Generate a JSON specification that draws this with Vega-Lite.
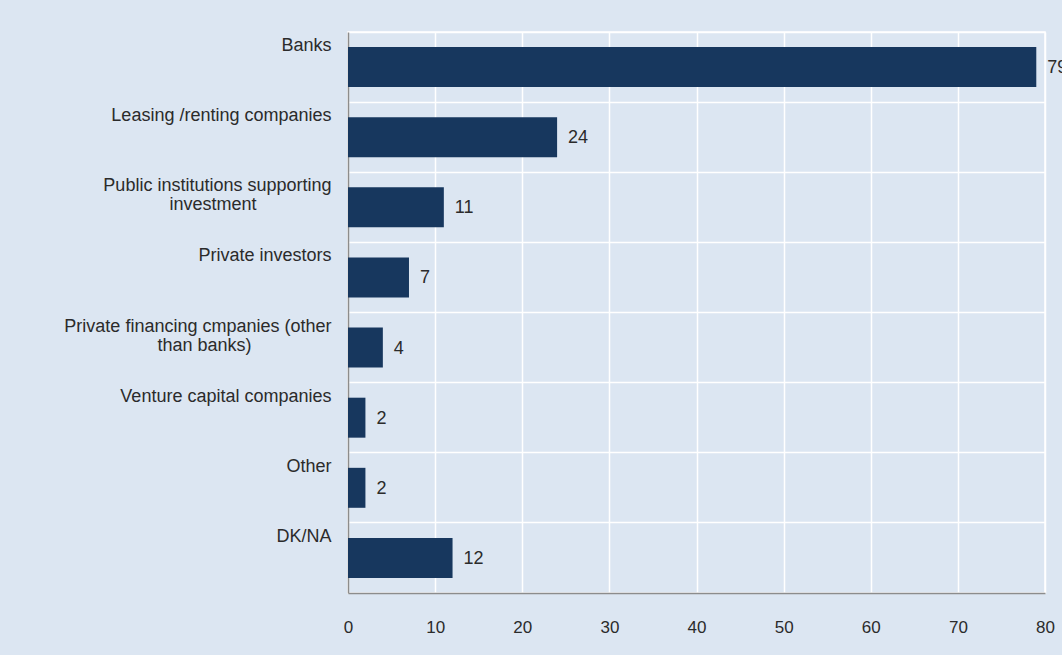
{
  "$schema": "https://vega.github.io/schema/vega-lite/v6.json",
  "autosize": "none",
  "width": 697,
  "height": 561,
  "padding": {"left": 348, "top": 32, "right": 17, "bottom": 62},
  "background": "#dce6f2",
  "config": {
    "view": {"stroke": "#ffffff", "strokeWidth": 1.5},
    "font": "Liberation Sans",
    "axis": {"labelFont": "Liberation Sans", "labelColor": "#2b2b2b"}
  },
  "data": {
    "values": [
      {"category": "Banks", "value": 79},
      {"category": "Leasing /renting companies", "value": 24},
      {"category": "Public institutions supporting\ninvestment", "value": 11},
      {"category": "Private investors", "value": 7},
      {"category": "Private financing cmpanies (other\nthan banks)", "value": 4},
      {"category": "Venture capital companies", "value": 2},
      {"category": "Other", "value": 2},
      {"category": "DK/NA", "value": 12}
    ]
  },
  "encoding": {
    "y": {
      "field": "category",
      "type": "nominal",
      "sort": null,
      "scale": {"paddingInner": 0, "paddingOuter": 0},
      "axis": {
        "title": null,
        "bandPosition": 0,
        "grid": true,
        "gridColor": "#ffffff",
        "gridWidth": 1.5,
        "ticks": false,
        "domain": true,
        "domainColor": "#8c8c8c",
        "domainWidth": 1.5,
        "labelBaseline": "top",
        "labelAlign": "right",
        "labelOffset": -30,
        "labelPadding": 17,
        "labelFontSize": 18,
        "labelLineHeight": 19,
        "labelLimit": 400,
        "labelExpr": "length(split(datum.label, '\\n')) > 1 ? [split(datum.label, '\\n')[0], split(datum.label, '\\n')[1] + substring('\u00a0\u00a0\u00a0\u00a0\u00a0\u00a0\u00a0\u00a0\u00a0\u00a0\u00a0\u00a0\u00a0\u00a0\u00a0\u00a0\u00a0\u00a0\u00a0\u00a0\u00a0\u00a0\u00a0\u00a0\u00a0\u00a0\u00a0\u00a0\u00a0\u00a0', 0, round(0.74 * (length(split(datum.label, '\\n')[0]) - length(split(datum.label, '\\n')[1])))) + '\u200b'] : datum.label"
      }
    },
    "x": {
      "field": "value",
      "type": "quantitative",
      "scale": {"domain": [0, 80], "nice": false},
      "axis": {
        "title": null,
        "values": [0, 10, 20, 30, 40, 50, 60, 70, 80],
        "grid": true,
        "gridColor": "#ffffff",
        "gridWidth": 1.5,
        "ticks": false,
        "domain": true,
        "domainColor": "#8c8c8c",
        "domainWidth": 1.5,
        "labelFontSize": 17,
        "labelPadding": 26,
        "labelFlush": false
      }
    }
  },
  "layer": [
    {
      "mark": {"type": "bar", "color": "#17375e", "height": {"band": 0.57}}
    },
    {
      "mark": {"type": "text", "align": "left", "baseline": "middle", "dx": 11, "dy": 1, "fontSize": 18, "color": "#2b2b2b"},
      "encoding": {"text": {"field": "value", "type": "quantitative"}}
    }
  ]
}
